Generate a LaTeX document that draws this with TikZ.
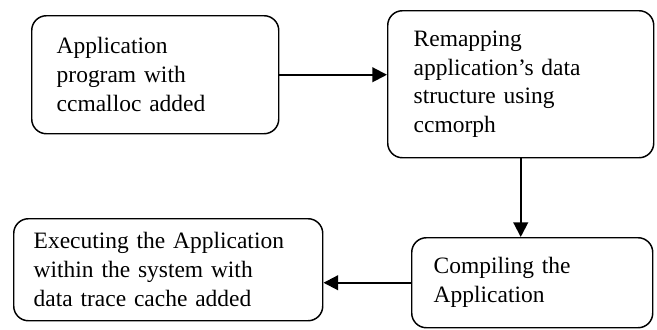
\documentclass[tikz,border=0pt]{standalone}
\usepackage{fontspec}
\setmainfont{Liberation Serif}
\usepackage{tikz}
\usetikzlibrary{positioning,arrows.meta}

\tikzset{
	stepbox/.style={draw, line width=1.1pt, rounded corners=11pt, anchor=north west,
		align=left, font=\fontsize{17.6}{21.6}\selectfont, inner ysep=0pt},
	flow/.style={-{Triangle[length=11pt,width=11pt]}, line width=1.5pt}
}

\begin{document}
\begin{tikzpicture}[x=0.75pt, y=-0.75pt, line cap=round, line join=round]
		\useasboundingbox (0,0) rectangle (657,329);
		
		% top row
		\node[stepbox, text width=147.75pt, inner xsep=18.75pt, minimum height=88.5pt]
			(prog) at (31,15) {Application\\program with\\ccmalloc added};
		\node[stepbox, text width=160.5pt, inner xsep=19.5pt, minimum height=110.25pt]
			(remap) at (387,10) {Remapping\\application’s data\\structure using\\ccmorph};
		
		% bottom row
		\node[stepbox, text width=147.75pt, inner xsep=16.5pt, minimum height=67.5pt]
			(compile) at (411,237) {Compiling the\\Application};
		\node[stepbox, text width=201.75pt, inner xsep=15pt, minimum height=76.5pt]
			(exec) at (13,218) {Executing the Application\\within the system with\\data trace cache added};
		
		\draw[flow] (prog.east) -- (prog.east -| remap.west);
		\draw[flow] (remap.south) -- (remap.south |- compile.north);
		\draw[flow] (compile.west) -- (compile.west -| exec.east);
	\end{tikzpicture}
\end{document}
